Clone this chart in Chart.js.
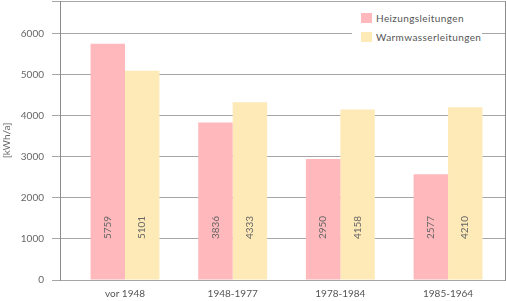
<!DOCTYPE html>
<html>
<head>
<meta charset="utf-8">
<script src="https://cdn.jsdelivr.net/npm/chart.js@4"></script>
<style>
  body { margin: 0; background: #fff; }
  #wrap { position: relative; width: 506px; height: 301px; }
  #legend {
    position: absolute; left: 352px; top: 4px; width: 130px; height: 40px;
    background: #fff; font: 10px Lato, sans-serif; color: #555; letter-spacing: 0.4px;
  }
  #legend div { position: absolute; left: 9px; height: 12px; line-height: 12px; white-space: nowrap; }
  #legend span { display: inline-block; width: 11px; height: 10px; vertical-align: -1px; margin-right: 4px; }
</style>
</head>
<body>
<div id="wrap">
  <canvas id="c" width="506" height="301"></canvas>
  <div id="legend"></div>
</div>
<script>
const categories = ['vor 1948', '1948-1977', '1978-1984', '1985-1964'];
const heizung = [5759, 3836, 2950, 2577];
const warmwasser = [5101, 4333, 4158, 4210];
const seriesNames = ['Heizungsleitungen', 'Warmwasserleitungen'];
const seriesColors = ['#ffb8bb', '#fdeab7'];
const yTicks = [0, 1000, 2000, 3000, 4000, 5000, 6000];

const toPoints = arr => arr.map((v, i) => ({ x: i, y: v }));

// value labels, rotated, at a fixed height inside the bars
const valueLabels = {
  id: 'valueLabels',
  afterDatasetsDraw(chart) {
    const ctx = chart.ctx;
    const y = chart.scales.y.getPixelForValue(1280);
    ctx.save();
    ctx.font = '10px Lato, sans-serif';
    ctx.fillStyle = '#666';
    ctx.textAlign = 'center';
    ctx.textBaseline = 'middle';
    chart.data.datasets.forEach((ds, d) => {
      chart.getDatasetMeta(d).data.forEach((bar, i) => {
        ctx.save();
        ctx.translate(bar.x, y);
        ctx.rotate(-Math.PI / 2);
        ctx.fillText(String(ds.data[i].y), 0, 0);
        ctx.restore();
      });
    });
    ctx.restore();
  }
};

const chart = new Chart(document.getElementById('c'), {
  type: 'bar',
  data: {
    datasets: [
      { label: seriesNames[0], data: toPoints(heizung), backgroundColor: seriesColors[0] },
      { label: seriesNames[1], data: toPoints(warmwasser), backgroundColor: seriesColors[1] }
    ]
  },
  options: {
    responsive: false,
    animation: false,
    categoryPercentage: 0.64,
    barPercentage: 1,
    layout: { padding: { top: 1, right: 0, bottom: 1, left: 0 } },
    plugins: { legend: { display: false }, tooltip: { enabled: false } },
    scales: {
      x: {
        type: 'linear',
        min: -0.6037,
        max: 3.529,
        offset: false,
        grid: { display: false, drawTicks: false, offset: false },
        border: { display: false },
        afterBuildTicks: s => { s.ticks = categories.map((c, i) => ({ value: i })); },
        afterFit: s => { s.height = 20; s.paddingLeft = 0; s.paddingRight = 0; },
        ticks: {
          autoSkip: false,
          maxRotation: 0,
          padding: 8,
          color: '#555',
          font: { family: 'Lato', size: 10 },
          callback: v => categories[v]
        }
      },
      y: {
        min: 0,
        max: 6800,
        afterBuildTicks: s => { s.ticks = yTicks.concat([6800]).map(v => ({ value: v })); },
        afterFit: s => { s.width = 60; s.paddingTop = 0; s.paddingBottom = 0; },
        ticks: {
          padding: 8,
          color: '#666',
          font: { family: 'Lato', size: 10 },
          callback: v => (yTicks.includes(v) ? v : '')
        },
        grid: { color: '#a6a6a6', tickLength: 8 },
        border: { color: '#8c8c8c' },
        title: {
          display: true,
          text: '[kWh/a]',
          color: '#666',
          font: { family: 'Lato', size: 10 },
          padding: { top: 1, bottom: 0 }
        }
      },
      y2: {
        position: 'right',
        afterFit: s => { s.width = 1; s.paddingTop = 0; s.paddingBottom = 0; },
        grid: { display: false },
        ticks: { display: false },
        border: { color: '#8c8c8c' }
      }
    }
  },
  plugins: [valueLabels]
});

// legend sits inside the plot area, top right, on a white box
const legend = document.getElementById('legend');
chart.data.datasets.forEach((ds, i) => {
  const row = document.createElement('div');
  row.style.top = (8 + i * 19) + 'px';
  row.innerHTML = '<span style="background:' + ds.backgroundColor + '"></span>' + ds.label;
  legend.appendChild(row);
});
</script>
</body>
</html>
